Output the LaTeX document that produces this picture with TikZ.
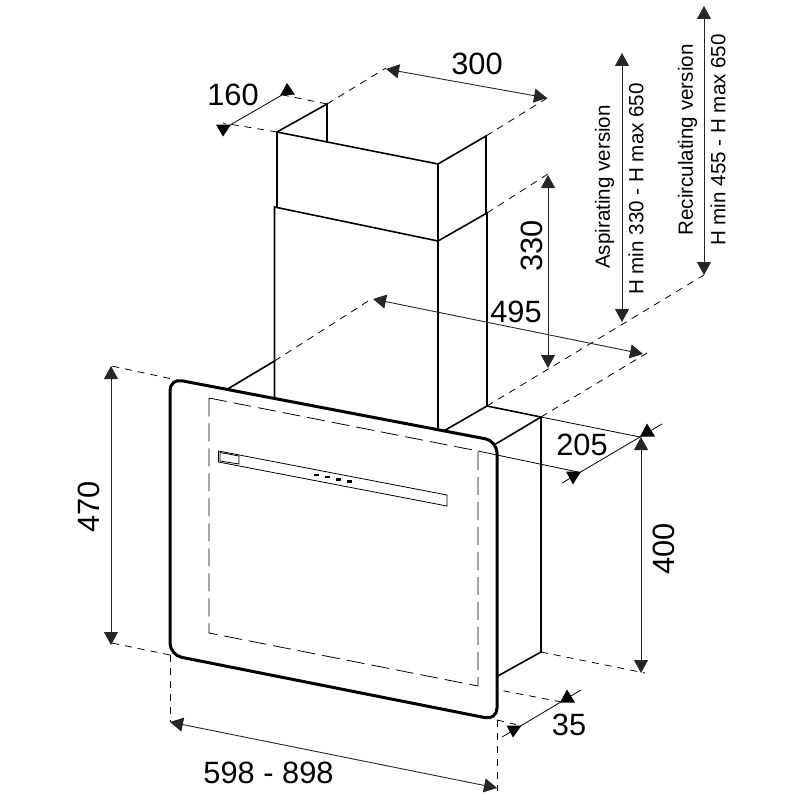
\documentclass[tikz,border=0pt]{standalone}
\usepackage{fontspec}
\setmainfont{Liberation Sans}
\usetikzlibrary{arrows.meta}

\tikzset{
    body/.style={line width=1.6pt,line join=miter},
    glass/.style={line width=3pt,rounded corners=12pt,fill=white},
    guide/.style={line width=.8pt,dash pattern=on 7pt off 6pt},
    inner/.style={line width=.8pt,dash pattern=on 18pt off 7pt},
    thinline/.style={line width=.8pt},
    measure/.style={line width=.9pt,black!85,{Triangle[length=13pt,width=14pt]}-{Triangle[length=13pt,width=14pt]}},
    big/.style={font=\fontsize{30.8}{30.8}\selectfont,inner sep=0pt},
    small/.style={font=\fontsize{20.6}{20.6}\selectfont,inner sep=0pt,rotate=90}
}

\begin{document}
\begin{tikzpicture}[x=1pt,y=-1pt]
    \useasboundingbox (0,0) rectangle (800,800);

    \coordinate (topfl) at (277,132);
    \coordinate (topbl) at (327,104);
    \coordinate (topbi) at (327,142);
    \coordinate (topfr) at (438,164);
    \coordinate (topbr) at (486,136);
    \coordinate (topbe) at (486,213);
    \coordinate (topfe) at (277,207);
    \coordinate (lowfl) at (274.5,207);
    \coordinate (lowfr) at (438,241);
    \coordinate (lowbr) at (487,213);
    \coordinate (lowfb) at (438,432);
    \coordinate (lowbb) at (487,406);
    \coordinate (lowlb) at (274.5,398);
    \coordinate (lowbl) at (274.5,361);
    \coordinate (lowin) at (226,390);
    \coordinate (boxbr) at (541,417);
    \coordinate (boxfr) at (494,445);
    \coordinate (boxfl) at (442,432);
    \coordinate (boxeb) at (541,652);
    \coordinate (boxef) at (496,677);

    \coordinate (gtl) at (170,378.5);
    \coordinate (gtr) at (497,441);
    \coordinate (gbr) at (497,720);
    \coordinate (gbl) at (170,655);

    \coordinate (itl) at (209,398);
    \coordinate (itr) at (478,451);
    \coordinate (ibr) at (478,686);
    \coordinate (ibl) at (209,633);
    \coordinate (irt) at (497,455);

    \coordinate (bartl) at (218.5,451);
    \coordinate (bartr) at (447,495);
    \coordinate (barbr) at (447,506);
    \coordinate (barbl) at (218.5,462);
    \coordinate (dsptl) at (220,452.5);
    \coordinate (dsptr) at (239,456);
    \coordinate (dspbr) at (239,464);
    \coordinate (dspbl) at (220,461);

    % guides
    \draw[guide] (topfl) -- (223,123);
    \draw[guide] (topbl) -- (283,95);
    \draw[guide] (topbl) -- (386,68);
    \draw[guide] (topbr) -- (552,95);
    \draw[guide] (lowbr) -- (551,172);
    \draw[guide] (lowbl) -- (373,298);
    \draw[guide] (boxbr) -- (647,353);
    \draw[guide] (lowbb) -- (704,275);
    \draw[guide] (gtl) -- (107,365);
    \draw[guide] (gbl) -- (107,642);
    \draw[guide] (boxeb) -- (645,673);
    \draw[guide] (ibr) -- (567,703);
    \draw[guide] (gbr) -- (516,724.5);
    \draw[guide] (gbl) -- (170,722);
    \draw[guide] (gbr) -- (497,791);
    \draw[thinline] (boxbr) -- (640,437);
    \draw[thinline] (irt) -- (578,472);

    % chimney
    \draw[body] (topfe) -- (topfl) -- (topbl) -- (topbi);
    \draw[body] (topfl) -- (topfr) -- (topbr) -- (topbe);
    \draw[body] (topfr) -- (lowfb);
    \draw[body] (lowlb) -- (lowfl) -- (lowfr) -- (lowbr) -- (lowbb) -- (boxbr) -- (boxeb) -- (boxef);
    \draw[body] (lowbl) -- (lowin);
    \draw[body] (boxbr) -- (boxfr);
    \draw[body] (lowbb) -- (boxfl);

    % panel
    \draw[glass] (gtl) -- (gtr) -- (gbr) -- (gbl) -- cycle;
    \draw[inner] (itl) -- (itr) -- (ibr) -- (ibl) -- cycle;
    \draw[thinline] (itr) -- (irt);
    \draw[thinline] (bartl) -- (bartr) -- (barbr) -- (barbl) -- cycle;
    \draw[thinline] (dsptl) -- (dsptr) -- (dspbr) -- (dspbl) -- cycle;
    \foreach \px/\py in {316/475,327/477.2,338/479.4,349/481.6}
        \fill (\px-2.5,\py-1.2) rectangle (\px+2.5,\py+1.2);

    % dimensions
    \draw[measure] (386,69) -- (547,98);
    \draw[measure] (373,299) -- (643,354);
    \draw[measure] (170,722) -- (497,788);
    \draw[measure] (111,366) -- (111,645);
    \draw[measure] (641,437) -- (641,673);
    \draw[measure] (548,175) -- (548,368);
    \draw[measure] (622,53) -- (622,322);
    \draw[measure] (704,6) -- (704,275);

    \draw[thinline] (230,125) -- (282,95);
    \fill (223,136.5) -- (216,124.5) -- (231,124.5) -- cycle;
    \fill (287,83) -- (280,95.5) -- (295,94.5) -- cycle;
    \draw[thinline] (562,483) -- (662,424);
    \fill (573,484.5) -- (566,471.5) -- (581,471.5) -- cycle;
    \fill (647,423.5) -- (640,436.5) -- (655,436.5) -- cycle;
    \draw[thinline] (502,737) -- (581,690);
    \fill (513,737.5) -- (506.5,725.5) -- (521.5,725.5) -- cycle;
    \fill (567,689.5) -- (560,702.5) -- (575,702.5) -- cycle;

    % labels
    \node[big] (w160) at (233,95) {160};
    \node[big] (w300) at (477,64) {300};
    \node[big,rotate=90] (h330) at (532,246) {330};
    \node[big] (d495) at (516,312) {495};
    \node[big] (d205) at (582,445) {205};
    \node[big,rotate=90] (h400) at (664,549) {400};
    \node[big,rotate=90] (h470) at (89,507) {470};
    \node[big] (t35) at (569,725) {35};
    \node[big] (w598) at (268.5,773) {598 - 898};
    \node[small] (asp) at (604.5,187) {Aspirating version};
    \node[small] (aspr) at (636,189) {H min 330 - H max 650};
    \node[small] (rec) at (687.5,140) {Recirculating version};
    \node[small] (recr) at (718,140) {H min 455 - H max 650};
\end{tikzpicture}
\end{document}
